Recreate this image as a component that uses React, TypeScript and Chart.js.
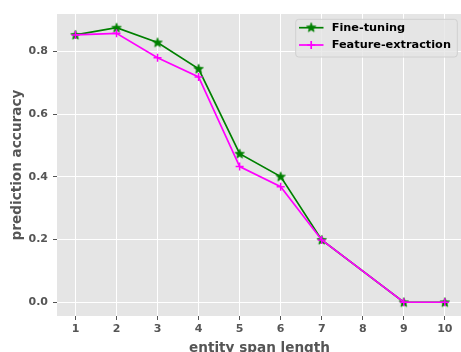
import React, { useEffect, useRef } from 'react';
import { Chart, registerables } from 'chart.js';

Chart.register(...registerables);

const spanLengths = [1, 2, 3, 4, 5, 6, 7, 9, 10];
const fineTuning = [0.853, 0.876, 0.829, 0.745, 0.474, 0.401, 0.199, 0.0, 0.0];
const featureExtraction = [0.853, 0.858, 0.78, 0.719, 0.433, 0.369, 0.199, 0.0, 0.0];
const xTickValues = [1, 2, 3, 4, 5, 6, 7, 8, 9, 10];
const yTickValues = [0.0, 0.2, 0.4, 0.6, 0.8];
const seriesNames = ['Fine-tuning', 'Feature-extraction'];
const xTitle = 'entity span length';
const yTitle = 'prediction accuracy';

const GREEN = '#008000';
const MAGENTA = '#FF00FF';
const FONT = '"DejaVu Sans", sans-serif';
const CANVAS_W = 470;

function makeStar(color: string): HTMLCanvasElement {
  const c = document.createElement('canvas');
  c.width = 12;
  c.height = 12;
  const ctx = c.getContext('2d')!;
  const cx = 6, cy = 6.3, ro = 4.9, ri = 2.1;
  ctx.beginPath();
  for (let i = 0; i < 10; i++) {
    const r = i % 2 === 0 ? ro : ri;
    const a = -Math.PI / 2 + (i * Math.PI) / 5;
    const px = cx + r * Math.cos(a);
    const py = cy + r * Math.sin(a);
    if (i === 0) ctx.moveTo(px, py);
    else ctx.lineTo(px, py);
  }
  ctx.closePath();
  ctx.fillStyle = color;
  ctx.fill();
  ctx.strokeStyle = color;
  ctx.lineWidth = 0.8;
  ctx.stroke();
  return c;
}

export default function App() {
  const ref = useRef<HTMLCanvasElement | null>(null);

  useEffect(() => {
    if (!ref.current) return;
    const star = makeStar(GREEN);
    const dataMax = Math.max(...fineTuning, ...featureExtraction);
    const dataMin = Math.min(...fineTuning, ...featureExtraction);
    const pad = (dataMax - dataMin) * 0.05;
    const xMin = Math.min(...spanLengths);
    const xMax = Math.max(...spanLengths);
    const xPad = (xMax - xMin) * 0.05;

    const decor = {
      id: 'decor',
      beforeDraw(chart: any) {
        const { ctx, chartArea } = chart;
        ctx.save();
        ctx.fillStyle = '#E5E5E5';
        ctx.fillRect(chartArea.left, chartArea.top, chartArea.right - chartArea.left, chartArea.bottom - chartArea.top);
        ctx.restore();
      },
      afterDraw(chart: any) {
        const { ctx, chartArea } = chart;
        ctx.save();
        ctx.fillStyle = '#555555';
        ctx.font = `bold 13.6px ${FONT}`;
        ctx.textAlign = 'center';
        ctx.textBaseline = 'alphabetic';
        ctx.fillText(xTitle, 259.5, 351.5);
        ctx.save();
        ctx.translate(20.5, (chartArea.top + chartArea.bottom) / 2);
        ctx.rotate(-Math.PI / 2);
        ctx.fillText(yTitle, 0, 0);
        ctx.restore();

        const bx = 295.7, by = 19.3, bw = 161.6, bh = 37.7, r = 3;
        ctx.beginPath();
        ctx.moveTo(bx + r, by);
        ctx.lineTo(bx + bw - r, by);
        ctx.arcTo(bx + bw, by, bx + bw, by + r, r);
        ctx.lineTo(bx + bw, by + bh - r);
        ctx.arcTo(bx + bw, by + bh, bx + bw - r, by + bh, r);
        ctx.lineTo(bx + r, by + bh);
        ctx.arcTo(bx, by + bh, bx, by + bh - r, r);
        ctx.lineTo(bx, by + r);
        ctx.arcTo(bx, by, bx + r, by, r);
        ctx.closePath();
        ctx.fillStyle = 'rgba(229,229,229,0.8)';
        ctx.fill();
        ctx.strokeStyle = '#D0D0D0';
        ctx.lineWidth = 1;
        ctx.stroke();

        const rows = [27.7, 45];
        const colors = [GREEN, MAGENTA];
        for (let i = 0; i < 2; i++) {
          const y = rows[i];
          ctx.strokeStyle = colors[i];
          ctx.lineWidth = 1.7;
          ctx.beginPath();
          ctx.moveTo(299, y);
          ctx.lineTo(323.5, y);
          ctx.stroke();
          if (i === 0) {
            ctx.drawImage(star, 311.2 - 6, y - 6.3);
          } else {
            ctx.beginPath();
            ctx.moveTo(311.2, y - 4);
            ctx.lineTo(311.2, y + 4);
            ctx.moveTo(307.2, y);
            ctx.lineTo(315.2, y);
            ctx.stroke();
          }
          ctx.fillStyle = '#000000';
          ctx.font = `bold 11.3px ${FONT}`;
          ctx.textAlign = 'left';
          ctx.textBaseline = 'middle';
          ctx.fillText(seriesNames[i], 331.7, y + 0.5);
        }
        ctx.restore();
      },
    };

    const tickFont = { family: FONT, size: 11, weight: 'bold' as const };

    const chart = new Chart(ref.current, {
      type: 'line',
      data: {
        datasets: [
          {
            label: seriesNames[0],
            data: spanLengths.map((x, i) => ({ x, y: fineTuning[i] })),
            borderColor: GREEN,
            backgroundColor: GREEN,
            borderWidth: 1.7,
            pointStyle: star as any,
            pointRadius: 5,
            tension: 0,
            order: 2,
          },
          {
            label: seriesNames[1],
            data: spanLengths.map((x, i) => ({ x, y: featureExtraction[i] })),
            borderColor: MAGENTA,
            backgroundColor: MAGENTA,
            borderWidth: 1.7,
            pointStyle: 'cross',
            pointRadius: 4,
            pointBorderWidth: 1.5,
            tension: 0,
            order: 1,
          },
        ],
      },
      options: {
        animation: false,
        responsive: false,
        maintainAspectRatio: false,
        layout: { padding: { top: 14, right: 0, bottom: 0, left: 0 } },
        plugins: { legend: { display: false }, tooltip: { enabled: false } },
        scales: {
          x: {
            type: 'linear',
            min: xMin - xPad,
            max: xMax + xPad,
            afterBuildTicks: (axis: any) => {
              axis.ticks = xTickValues.map((v) => ({ value: v }));
            },
            afterFit: (scale: any) => {
              scale.height = 36;
            },
            grid: { color: '#FFFFFF', lineWidth: 1, tickColor: '#555555', tickLength: 4 },
            border: { display: false },
            ticks: {
              font: tickFont,
              color: '#555555',
              padding: 3,
              maxRotation: 0,
              autoSkip: false,
              callback: (v: any) => String(v),
            },
          },
          y: {
            type: 'linear',
            min: dataMin - pad,
            max: dataMax + pad,
            afterBuildTicks: (axis: any) => {
              axis.ticks = yTickValues.map((v) => ({ value: v }));
            },
            afterFit: (scale: any) => {
              scale.width = 57;
            },
            grid: { color: '#FFFFFF', lineWidth: 1, tickColor: '#555555', tickLength: 4 },
            border: { display: false },
            ticks: {
              font: tickFont,
              color: '#555555',
              padding: 5,
              autoSkip: false,
              callback: (v: any) => Number(v).toFixed(1),
            },
          },
        },
      },
      plugins: [decor],
    });
    return () => chart.destroy();
  }, []);

  return (
    <div style={{ position: 'fixed', left: 0, top: 0, width: 461, height: 352, overflow: 'hidden', background: '#fff' }}>
      <canvas ref={ref} width={CANVAS_W} height={352} style={{ width: CANVAS_W, height: 352, display: 'block' }} />
    </div>
  );
}
